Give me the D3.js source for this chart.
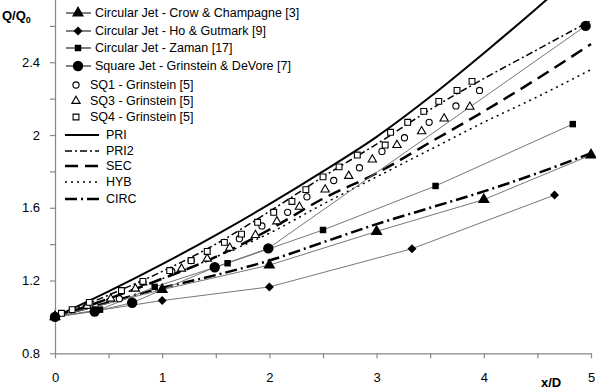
<!DOCTYPE html>
<html>
<head>
<meta charset="utf-8">
<script src="https://cdn.jsdelivr.net/npm/d3@7"></script>
<style>
  body { margin: 0; background: #fff; }
  svg { display: block; font-family: Arial, "Liberation Sans", sans-serif; }
</style>
</head>
<body>
<div id="chart"></div>
<script>
// experimental data [x/D, Q/Q0]
const crowChampagne = [[0, 1], [1, 1.15], [2, 1.285], [3, 1.47], [4, 1.645], [5, 1.89]];
const hoGutmark = [[0, 1], [1, 1.09], [2, 1.165], [3.33, 1.375], [4.66, 1.67]];
const zaman = [[0, 1], [0.42, 1.04], [0.93, 1.165], [1.61, 1.295], [2.5, 1.478], [3.55, 1.72], [4.83, 2.06]];
const grinsteinDeVore = [[0, 1], [0.37, 1.03], [0.72, 1.078], [1.49, 1.273], [1.99, 1.377], [4.95, 2.6]];

const sq1 = [[0.6, 1.10], [0.82, 1.19], [1.09, 1.25], [1.27, 1.31], [1.72, 1.43], [1.93, 1.50], [2.17, 1.575],
  [2.35, 1.66], [2.6, 1.75], [2.84, 1.82], [3.05, 1.91], [3.26, 1.985], [3.49, 2.07], [3.74, 2.16], [3.96, 2.245]];
const sq3 = [[0.3, 1.06], [0.52, 1.10], [0.75, 1.155], [1.18, 1.265], [1.42, 1.32], [1.63, 1.38], [1.87, 1.45], [2.07, 1.525],
  [2.28, 1.605], [2.52, 1.70], [2.74, 1.775], [2.96, 1.865], [3.19, 1.945], [3.42, 2.02], [3.63, 2.09], [3.87, 2.155]];
const sq4 = [[0.06, 1.02], [0.16, 1.04], [0.32, 1.08], [0.62, 1.145], [0.82, 1.195], [1.07, 1.255], [1.27, 1.31], [1.42, 1.36],
  [1.58, 1.41], [1.74, 1.455], [1.89, 1.52], [2.04, 1.575], [2.21, 1.635], [2.34, 1.70], [2.5, 1.77], [2.65, 1.825],
  [2.82, 1.89], [3.08, 1.945], [3.13, 2.015], [3.29, 2.07], [3.44, 2.13], [3.58, 2.185], [3.75, 2.245], [3.89, 2.295]];

// model curves
const modelX = [0, 0.5, 1, 1.5, 2, 2.5, 3, 3.5, 4, 4.5, 5];
const pri = [1, 1.14, 1.29, 1.45, 1.62, 1.80, 1.99, 2.21, 2.45, 2.70, 2.96];
const pri2 = [1, 1.12, 1.25, 1.40, 1.58, 1.77, 1.95, 2.14, 2.31, 2.47, 2.63];
const sec = [1, 1.10, 1.21, 1.33, 1.48, 1.65, 1.79, 1.96, 2.13, 2.31, 2.50];
const hyb = [1, 1.10, 1.21, 1.33, 1.46, 1.62, 1.77, 1.92, 2.07, 2.21, 2.36];
const circ = [1, 1.08, 1.16, 1.23, 1.31, 1.41, 1.51, 1.60, 1.69, 1.79, 1.90];

const xTicks = [0, 0.5, 1, 1.5, 2, 2.5, 3, 3.5, 4, 4.5, 5];
const yTicks = [0.8, 1, 1.2, 1.4, 1.6, 1.8, 2, 2.2, 2.4, 2.6];
const yLabels = [0.8, 1.2, 1.6, 2, 2.4];

const width = 596, height = 390;

const svg = d3.select('#chart').append('svg')
  .attr('width', width)
  .attr('height', height);

const x = d3.scaleLinear().domain([0, 5]).range([55, 591]);
const y = d3.scaleLinear().domain([0.8, 2.8]).range([353.3, -10.5]);

// axes
const yAxis = svg.append('g')
  .attr('transform', 'translate(55,0)')
  .call(d3.axisLeft(y).tickValues(yTicks).tickSize(5).tickSizeOuter(0)
    .tickFormat(d => yLabels.includes(d) ? d3.format('')(d) : ''));
const xAxis = svg.append('g')
  .attr('transform', 'translate(0,353.3)')
  .call(d3.axisBottom(x).tickValues(xTicks).tickSize(5).tickSizeOuter(0)
    .tickFormat(d => Number.isInteger(d) ? d : ''));

[xAxis, yAxis].forEach(a => {
  a.selectAll('path, line').attr('stroke', '#888').attr('stroke-width', 1.2);
  a.selectAll('text').attr('font-size', 13).attr('fill', '#000')
    .attr('font-family', 'Arial, "Liberation Sans", sans-serif');
});
yAxis.selectAll('text').attr('x', -15);
xAxis.selectAll('text').attr('y', 19);

// axis titles
const qLabel = svg.append('text')
  .attr('x', 2).attr('y', 20)
  .attr('font-size', 13).attr('font-weight', 'bold');
qLabel.append('tspan').text('Q/Q');
qLabel.append('tspan').attr('font-size', 9).attr('dy', 3).text('0');

svg.append('text')
  .attr('x', 541).attr('y', 387)
  .attr('font-size', 13).attr('font-weight', 'bold')
  .text('x/D');

// model lines
const models = [
  { name: 'PRI', values: pri, dash: null, w: 2 },
  { name: 'PRI2', values: pri2, dash: '7,3,2,3', w: 1.5 },
  { name: 'SEC', values: sec, dash: '13,7', w: 2.5 },
  { name: 'HYB', values: hyb, dash: '2,4', w: 1.5 },
  { name: 'CIRC', values: circ, dash: '12,4,2,4', w: 2.5 }
];

const curve = d3.line()
  .x(d => x(d[0]))
  .y(d => y(d[1]))
  .curve(d3.curveMonotoneX);

models.forEach(m => {
  svg.append('path')
    .datum(modelX.map((v, i) => [v, m.values[i]]))
    .attr('d', curve)
    .attr('fill', 'none')
    .attr('stroke', '#000')
    .attr('stroke-width', m.w)
    .attr('stroke-dasharray', m.dash);
});

// experimental series
const sym = {
  triangle: { d: d3.symbol().type(d3.symbolTriangle).size(62), rot: 0 },
  diamond: { d: d3.symbol().type(d3.symbolSquare).size(40), rot: 45 },
  square: { d: d3.symbol().type(d3.symbolSquare).size(42), rot: 0 },
  circle: { d: d3.symbol().type(d3.symbolCircle).size(85), rot: 0 },
  oCircle: { d: d3.symbol().type(d3.symbolCircle).size(30), rot: 0 },
  oTriangle: { d: d3.symbol().type(d3.symbolTriangle).size(30), rot: 0 },
  oSquare: { d: d3.symbol().type(d3.symbolSquare).size(34), rot: 0 }
};

const expSeries = [
  { name: 'Circular Jet - Crow & Champagne [3]', values: crowChampagne, sym: sym.triangle },
  { name: 'Circular Jet - Ho & Gutmark [9]', values: hoGutmark, sym: sym.diamond },
  { name: 'Circular Jet - Zaman [17]', values: zaman, sym: sym.square },
  { name: 'Square Jet - Grinstein & DeVore [7]', values: grinsteinDeVore, sym: sym.circle }
];
const openSeries = [
  { name: 'SQ1 - Grinstein [5]', values: sq1, sym: sym.oCircle },
  { name: 'SQ3 - Grinstein [5]', values: sq3, sym: sym.oTriangle },
  { name: 'SQ4 - Grinstein [5]', values: sq4, sym: sym.oSquare }
];

const straight = d3.line().x(d => x(d[0])).y(d => y(d[1]));

expSeries.forEach(s => {
  svg.append('path')
    .datum(s.values)
    .attr('d', straight)
    .attr('fill', 'none')
    .attr('stroke', '#777')
    .attr('stroke-width', 1);
});

openSeries.forEach(s => {
  svg.append('g').selectAll('path')
    .data(s.values)
    .enter().append('path')
    .attr('transform', d => `translate(${x(d[0])},${y(d[1])})`)
    .attr('d', s.sym.d)
    .attr('fill', '#fff')
    .attr('stroke', '#000')
    .attr('stroke-width', 1.1);
});

expSeries.forEach(s => {
  svg.append('g').selectAll('path')
    .data(s.values)
    .enter().append('path')
    .attr('transform', d => `translate(${x(d[0])},${y(d[1])}) rotate(${s.sym.rot})`)
    .attr('d', s.sym.d)
    .attr('fill', '#000');
});

// legend
const legend = svg.append('g').attr('font-size', 12.5);
const rowY = [13, 31, 48, 66, 85, 101, 117];

expSeries.forEach((s, i) => {
  const g = legend.append('g').attr('transform', `translate(0,${rowY[i]})`);
  g.append('line').attr('x1', 66).attr('x2', 91).attr('stroke', '#000').attr('stroke-width', 1);
  g.append('path').attr('transform', `translate(78,0) rotate(${s.sym.rot})`).attr('d', s.sym.d).attr('fill', '#000');
  g.append('text').attr('x', 95).attr('dy', '0.35em').text(s.name);
});
openSeries.forEach((s, i) => {
  const g = legend.append('g').attr('transform', `translate(0,${rowY[i + 4]})`);
  g.append('path').attr('transform', 'translate(76,0)').attr('d', s.sym.d)
    .attr('fill', '#fff').attr('stroke', '#000').attr('stroke-width', 1.1);
  g.append('text').attr('x', 90).attr('dy', '0.35em').text(s.name);
});

const modelRowY = [135, 151, 166, 182, 199];
models.forEach((m, i) => {
  const g = legend.append('g').attr('transform', `translate(0,${modelRowY[i]})`);
  g.append('line').attr('x1', 65).attr('x2', 99)
    .attr('stroke', '#000').attr('stroke-width', m.w).attr('stroke-dasharray', m.dash);
  g.append('text').attr('x', 106).attr('dy', '0.35em').text(m.name);
});
</script>
</body>
</html>
